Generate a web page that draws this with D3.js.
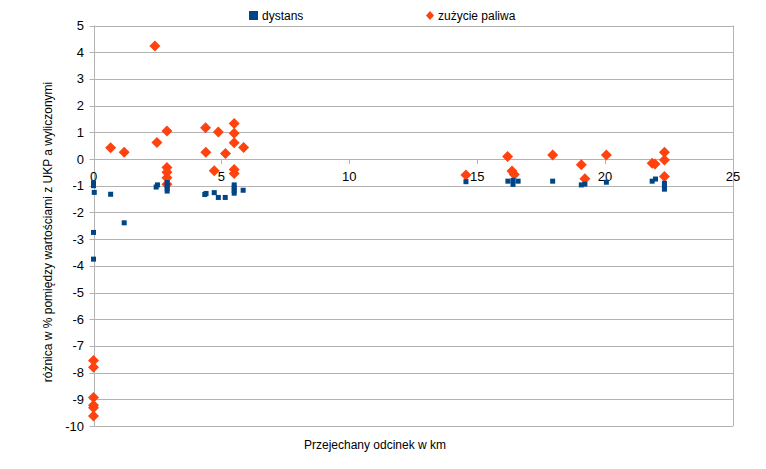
<!DOCTYPE html>
<html><head><meta charset="utf-8">
<script src="https://cdn.jsdelivr.net/npm/d3@7"></script>
<style>
body{margin:0;background:#fff;}
text{font-family:"Liberation Sans",Arial,sans-serif;fill:#000;}
</style></head>
<body>
<svg id="c" width="766" height="469"></svg>
<script>
const seriesNames = ["dystans", "zużycie paliwa"];
const xTicks = [0, 5, 10, 15, 20, 25];
const yTicks = [5, 4, 3, 2, 1, 0, -1, -2, -3, -4, -5, -6, -7, -8, -9, -10];
const distX = [0, 0, 0.03, 0, 0, 0.67, 1.2,
  2.45, 2.5, 2.88, 2.88, 2.88, 2.88,
  4.35, 4.4, 4.72, 4.88, 5.15, 5.5, 5.5, 5.5, 5.5, 5.85,
  14.56, 16.2, 16.4, 16.4, 16.6, 17.95, 19.07, 19.21, 20.05, 21.84, 21.97, 22.32, 22.32, 22.32];
const distY = [-0.89, -1.0, -1.25, -2.75, -3.75, -1.32, -2.39,
  -1.05, -0.97, -0.88, -1.0, -1.1, -1.2,
  -1.33, -1.29, -1.26, -1.44, -1.44, -0.97, -1.08, -1.18, -1.28, -1.17,
  -0.85, -0.83, -0.8, -0.95, -0.83, -0.83, -0.97, -0.94, -0.87, -0.83, -0.75, -0.91, -1.02, -1.13];
const fuelX = [0, 0, 0, 0, 0, 0,
  0.67, 1.2,
  2.4, 2.48, 2.87, 2.87, 2.87, 2.87, 2.87,
  4.38, 4.88, 5.5, 5.5, 5.5, 5.87, 4.39, 5.16, 4.72, 5.5, 5.5,
  14.56, 16.19, 16.36, 16.45, 17.95, 19.07, 19.21, 20.05, 21.84, 21.95, 22.32, 22.32, 22.32];
const fuelY = [-7.55, -7.8, -8.93, -9.22, -9.32, -9.63,
  0.42, 0.25,
  4.23, 0.62, 1.05, -0.32, -0.5, -0.7, -0.95,
  1.17, 1.01, 1.33, 0.96, 0.61, 0.43, 0.25, 0.21, -0.44, -0.39, -0.54,
  -0.6, 0.09, -0.45, -0.58, 0.15, -0.22, -0.74, 0.15, -0.16, -0.19, 0.25, -0.04, -0.66];

const colors = ["#004586", "#ff420e"];
const grid = "#b3b3b3";
const svg = d3.select("#c");
const x = d3.scaleLinear().domain([0, 25]).range([93.5, 733]);
const y = d3.scaleLinear().domain([-10, 5]).range([426, 25.5]);

// gridlines
svg.append("g").selectAll("line").data(yTicks).join("line")
  .attr("x1", x(0) - 4).attr("x2", x(25))
  .attr("y1", d => Math.round(y(d)) + 0.5).attr("y2", d => Math.round(y(d)) + 0.5)
  .attr("stroke", grid).attr("stroke-width", 1);
// right border
svg.append("line").attr("x1", Math.round(x(25)) + 0.5).attr("x2", Math.round(x(25)) + 0.5)
  .attr("y1", y(5)).attr("y2", y(-10)).attr("stroke", grid);
// y axis line at x=0
svg.append("line").attr("x1", Math.round(x(0)) + 0.5).attr("x2", Math.round(x(0)) + 0.5)
  .attr("y1", y(5)).attr("y2", y(-10)).attr("stroke", grid);
// x tick marks at y=0
svg.append("g").selectAll("line").data(xTicks).join("line")
  .attr("x1", d => Math.round(x(d)) + 0.5).attr("x2", d => Math.round(x(d)) + 0.5)
  .attr("y1", y(0)).attr("y2", y(0) + 5).attr("stroke", grid);

// y tick labels
svg.append("g").selectAll("text").data(yTicks).join("text")
  .attr("x", 84).attr("y", d => y(d) + 4.5).attr("text-anchor", "end")
  .style("font-size", "13px").text(d => d);
// x tick labels
svg.append("g").selectAll("text").data(xTicks).join("text")
  .attr("x", d => x(d)).attr("y", y(0) + 22).attr("text-anchor", "middle")
  .style("font-size", "13px").text(d => d);

// fuel diamonds
const fuel = fuelX.map((v, i) => ({x: v, y: fuelY[i]}));
const dist = distX.map((v, i) => ({x: v, y: distY[i]}));
const dsz = 5.5;
svg.append("g").selectAll("path").data(fuel).join("path")
  .attr("d", d => {const cx = x(d.x), cy = y(d.y);
    return `M${cx},${cy - dsz}L${cx + dsz},${cy}L${cx},${cy + dsz}L${cx - dsz},${cy}Z`;})
  .attr("fill", colors[1]);
// distance squares
const ssz = 5;
svg.append("g").selectAll("rect").data(dist).join("rect")
  .attr("x", d => x(d.x) - ssz / 2).attr("y", d => y(d.y) - ssz / 2)
  .attr("width", ssz).attr("height", ssz).attr("fill", colors[0]);

// legend
svg.append("rect").attr("x", 249).attr("y", 11).attr("width", 9).attr("height", 9).attr("fill", colors[0]);
svg.append("text").attr("x", 262).attr("y", 20).style("font-size", "12px").text(seriesNames[0]);
svg.append("path").attr("d", "M430,11L434,15.5L430,20L426,15.5Z").attr("fill", colors[1]);
svg.append("text").attr("x", 438).attr("y", 20).style("font-size", "12px").text(seriesNames[1]);

// axis titles
svg.append("text").attr("transform", "translate(52,232) rotate(-90)")
  .attr("text-anchor", "middle").style("font-size", "12px")
  .text("różnica w % pomiędzy wartościami z UKP a wyliczonymi");
svg.append("text").attr("x", 375).attr("y", 449).attr("text-anchor", "middle")
  .style("font-size", "12px").text("Przejechany odcinek w km");
</script>
</body></html>
